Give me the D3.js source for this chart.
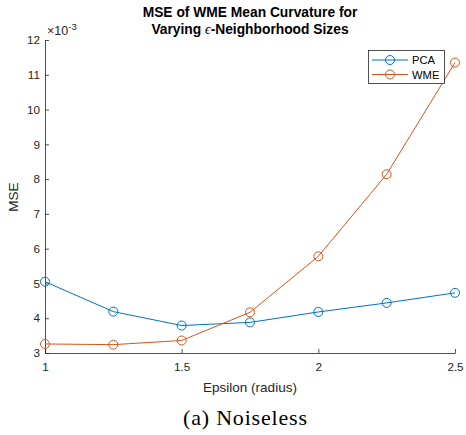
<!DOCTYPE html>
<html>
<head>
<meta charset="utf-8">
<script src="https://cdn.jsdelivr.net/npm/d3@7"></script>
<style>
  html, body { margin: 0; padding: 0; background: #fff; }
  svg { display: block; font-family: "Liberation Sans", Arial, sans-serif; }
</style>
</head>
<body>
<svg id="chart" width="466" height="435"></svg>
<script>
// Neighbourhood radius values
const epsilon = [1, 1.25, 1.5, 1.75, 2, 2.25, 2.5];
// MSE values (units of 1e-3)
const pcaMSE = [5.05, 4.19, 3.79, 3.88, 4.18, 4.44, 4.73];
const wmeMSE = [3.26, 3.24, 3.36, 4.17, 5.78, 8.14, 11.35];
const seriesNames = ["PCA", "WME"];
const seriesColors = ["#0072BD", "#D95319"];
const xTicks = [1, 1.5, 2, 2.5];
const yTicks = [3, 4, 5, 6, 7, 8, 9, 10, 11, 12];

const svg = d3.select("#chart");
const plotL = 45, plotR = 455, plotT = 40, plotB = 353;
const axisColor = "#262626";
const sans = "'Liberation Sans', Arial, sans-serif";

const x = d3.scaleLinear().domain([1, 2.5]).range([plotL, plotR]);
const y = d3.scaleLinear().domain([3, 12]).range([plotB, plotT]);

// Axes with inward ticks
const gx = svg.append("g").attr("transform", `translate(0,${plotB})`)
  .call(d3.axisBottom(x).tickValues(xTicks).tickSizeInner(-4).tickSizeOuter(0)
    .tickFormat(d3.format("")));
const gy = svg.append("g").attr("transform", `translate(${plotL},0)`)
  .call(d3.axisLeft(y).tickValues(yTicks).tickSizeInner(-4).tickSizeOuter(0)
    .tickFormat(d3.format("d")));
[gx, gy].forEach(g => {
  g.attr("font-family", sans).attr("font-size", 11.7);
  g.select(".domain").attr("stroke", axisColor).attr("stroke-width", 0.8);
  g.selectAll(".tick line").attr("stroke", axisColor).attr("stroke-width", 0.8);
  g.selectAll(".tick text").attr("fill", axisColor);
});
gx.selectAll(".tick text").attr("y", 10).attr("dy", "0.71em");
gy.selectAll(".tick text").attr("x", -5);

// Exponent multiplier
const mult = svg.append("text").attr("x", plotL + 2).attr("y", plotT - 5)
  .attr("font-size", 12.5).attr("fill", axisColor);
mult.append("tspan").text("\u00d710");
mult.append("tspan").attr("dy", -5).attr("font-size", 9.5).text("-3");

// Title
svg.append("text").attr("x", 250).attr("y", 17).attr("text-anchor", "middle")
  .attr("font-size", 13.8).attr("font-weight", "bold").attr("fill", "#000")
  .text("MSE of WME Mean Curvature for");
const t2 = svg.append("text").attr("x", 250).attr("y", 33.5).attr("text-anchor", "middle")
  .attr("font-size", 13.8).attr("font-weight", "bold").attr("fill", "#000");
t2.append("tspan").text("Varying ");
t2.append("tspan").style("font-family", "'Liberation Serif', 'DejaVu Serif', serif")
  .style("font-style", "italic").style("font-weight", "normal").text("\u03f5");
t2.append("tspan").text("-Neighborhood Sizes");

// Axis labels
svg.append("text").attr("x", 250).attr("y", 392).attr("text-anchor", "middle")
  .attr("font-size", 13.5).attr("fill", axisColor).text("Epsilon (radius)");
svg.append("text").attr("transform", "translate(18,197) rotate(-90)")
  .attr("text-anchor", "middle").attr("font-size", 13.5).attr("fill", axisColor).text("MSE");

// Series
const series = [pcaMSE, wmeMSE];
series.forEach((vals, i) => {
  const pts = epsilon.map((e, j) => [e, vals[j]]);
  svg.append("path").datum(pts)
    .attr("d", d3.line().x(d => x(d[0])).y(d => y(d[1])))
    .attr("fill", "none").attr("stroke", seriesColors[i]).attr("stroke-width", 1);
  svg.append("g").selectAll("circle").data(pts).join("circle")
    .attr("cx", d => x(d[0])).attr("cy", d => y(d[1])).attr("r", 4.5)
    .attr("fill", "none").attr("stroke", seriesColors[i]).attr("stroke-width", 1);
});

// Legend
const lg = svg.append("g");
lg.append("rect").attr("x", 368.5).attr("y", 50.5).attr("width", 76).attr("height", 33)
  .attr("fill", "#fff").attr("stroke", axisColor).attr("stroke-width", 0.8);
seriesNames.forEach((name, i) => {
  const ly = 60 + i * 14.5;
  lg.append("line").attr("x1", 372).attr("x2", 408).attr("y1", ly).attr("y2", ly)
    .attr("stroke", seriesColors[i]).attr("stroke-width", 1);
  lg.append("circle").attr("cx", 390).attr("cy", ly).attr("r", 4.5)
    .attr("fill", "none").attr("stroke", seriesColors[i]).attr("stroke-width", 1);
  lg.append("text").attr("x", 412).attr("y", ly + 4).attr("font-size", 11.2)
    .attr("fill", "#000").text(name);
});

// Caption
svg.append("text").attr("x", 245).attr("y", 425).attr("text-anchor", "middle")
  .style("font-family", "'Liberation Serif', 'DejaVu Serif', serif")
  .attr("font-size", 22).attr("textLength", 124).attr("lengthAdjust", "spacing")
  .attr("fill", "#000").text("(a) Noiseless");
</script>
</body>
</html>
